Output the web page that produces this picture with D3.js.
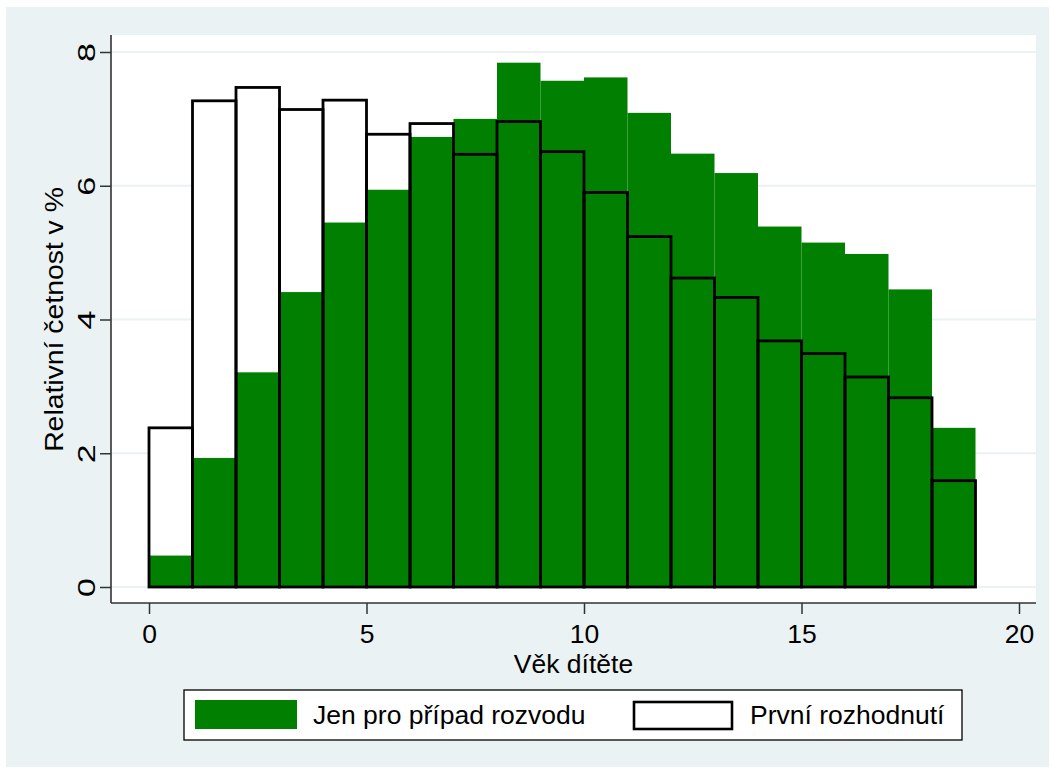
<!DOCTYPE html>
<html><head><meta charset="utf-8">
<script src="https://cdn.jsdelivr.net/npm/d3@7"></script>
<style>
body{margin:0;background:#fff}
svg{display:block}
text{font-family:"Liberation Sans",Arial,sans-serif;fill:#000}
</style>
</head><body>
<svg id="c" width="1051" height="769"></svg>
<script>
// Age bins (start of each one-year bin)
const binStarts = [0,1,2,3,4,5,6,7,8,9,10,11,12,13,14,15,16,17,18];
// Relative frequency in % - "Jen pro případ rozvodu"
const divorceOnly = [0.47,1.93,3.21,4.41,5.45,5.94,6.73,7.00,7.84,7.57,7.62,7.09,6.48,6.19,5.39,5.15,4.98,4.45,2.38];
// Relative frequency in % - "První rozhodnutí"
const firstDecision = [2.38,7.27,7.47,7.14,7.28,6.77,6.93,6.47,6.96,6.51,5.90,5.24,4.62,4.33,3.68,3.49,3.14,2.83,1.59];
const xTicks = [0,5,10,15,20];
const yTicks = [0,2,4,6,8];
const seriesNames = ["Jen pro případ rozvodu","První rozhodnutí"];
const xTitle = "Věk dítěte";
const yTitle = "Relativní četnost v %";

const GREEN = "#007f00", BG = "#eaf2f3", AX = "#333";
const FS = 26.5;
const svg = d3.select("#c");

// outer background
svg.append("rect").attr("x",6).attr("y",7).attr("width",1043).attr("height",760).attr("fill",BG);

const plot = {left:111, right:1036, top:35, bottom:603};
svg.append("rect").attr("x",plot.left).attr("y",plot.top)
  .attr("width",plot.right-plot.left).attr("height",plot.bottom-plot.top).attr("fill","#fff");

const x = d3.scaleLinear().domain([0,20]).range([149,1019]);
const y = d3.scaleLinear().domain([0,8]).range([587,52]);

// gridlines
svg.append("g").selectAll("line").data(yTicks).join("line")
  .attr("x1",plot.left).attr("x2",plot.right)
  .attr("y1",d=>y(d)).attr("y2",d=>y(d))
  .attr("stroke",BG).attr("stroke-width",2);

// bars: white fill, green fill, black outlines
const bars = svg.append("g");
bars.selectAll("rect.w").data(binStarts).join("rect").attr("class","w")
  .attr("x",d=>x(d)).attr("width",d=>x(d+1)-x(d))
  .attr("y",(d,i)=>y(firstDecision[i])).attr("height",(d,i)=>y(0)-y(firstDecision[i]))
  .attr("fill","#fff");
bars.selectAll("rect.g").data(binStarts).join("rect").attr("class","g")
  .attr("x",d=>x(d)).attr("width",d=>x(d+1)-x(d))
  .attr("y",(d,i)=>y(divorceOnly[i])).attr("height",(d,i)=>y(0)-y(divorceOnly[i]))
  .attr("fill",GREEN);
bars.selectAll("rect.o").data(binStarts).join("rect").attr("class","o")
  .attr("x",d=>x(d)).attr("width",d=>x(d+1)-x(d))
  .attr("y",(d,i)=>y(firstDecision[i])).attr("height",(d,i)=>y(0)-y(firstDecision[i]))
  .attr("fill","none").attr("stroke","#000").attr("stroke-width",2.8);

// axes
const gx = svg.append("g").attr("transform",`translate(0,${plot.bottom})`)
  .call(d3.axisBottom(x).tickValues(xTicks).tickSize(11).tickPadding(10).tickSizeOuter(0));
gx.select(".domain").remove();
gx.selectAll(".tick line").attr("stroke",AX).attr("stroke-width",1.5);
gx.selectAll(".tick text").attr("font-size",FS).attr("font-family",'"Liberation Sans",Arial,sans-serif').attr("fill","#000");
svg.append("line").attr("x1",plot.left).attr("x2",plot.right).attr("y1",plot.bottom).attr("y2",plot.bottom)
  .attr("stroke",AX).attr("stroke-width",1.6);

const gy = svg.append("g").attr("transform",`translate(${plot.left},0)`)
  .call(d3.axisLeft(y).tickValues(yTicks).tickSize(11).tickSizeOuter(0));
gy.select(".domain").remove();
gy.selectAll(".tick line").attr("stroke",AX).attr("stroke-width",1.5);
gy.selectAll(".tick text")
  .attr("x",null).attr("y",null).attr("dy",null)
  .attr("text-anchor","middle")
  .attr("transform","translate(-16,0) rotate(-90) scale(1.45,1)")
  .attr("font-size",23.5).attr("font-family",'"Liberation Sans",Arial,sans-serif').attr("fill","#000");
svg.append("line").attr("x1",plot.left).attr("x2",plot.left).attr("y1",plot.top).attr("y2",plot.bottom)
  .attr("stroke",AX).attr("stroke-width",1.6);

// titles
svg.append("text").attr("x",(plot.left+plot.right)/2).attr("y",673)
  .attr("text-anchor","middle").attr("font-size",FS).text(xTitle);
svg.append("text").attr("transform",`translate(63,${(y(0)+y(8))/2}) rotate(-90) scale(1.07,1)`)
  .attr("text-anchor","middle").attr("font-size",FS).text(yTitle);

// legend
const lg = svg.append("g");
lg.append("rect").attr("x",184).attr("y",690).attr("width",778).attr("height",50)
  .attr("fill","#fff").attr("stroke","#000").attr("stroke-width",1.3);
lg.append("rect").attr("x",195).attr("y",700).attr("width",102).attr("height",29).attr("fill",GREEN);
lg.append("text").attr("x",313).attr("y",724).attr("font-size",FS).text(seriesNames[0]);
lg.append("rect").attr("x",634).attr("y",702).attr("width",98).attr("height",27)
  .attr("fill","#fff").attr("stroke","#000").attr("stroke-width",2.6);
lg.append("text").attr("x",750).attr("y",724).attr("font-size",FS).text(seriesNames[1]);
</script>
</body></html>
